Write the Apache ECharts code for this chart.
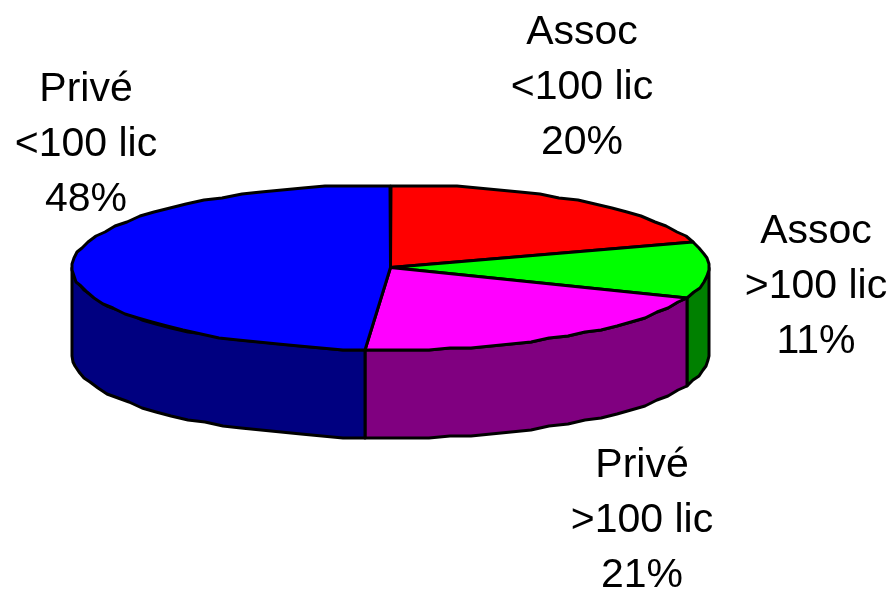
<!DOCTYPE html>
<html>
<head>
<meta charset="utf-8">
<title>Répartition</title>
<script src="https://cdn.jsdelivr.net/npm/echarts@6/dist/echarts.min.js"></script>
<style>
html, body { margin: 0; padding: 0; background: #fff; }
#chart { width: 892px; height: 589px; }
</style>
</head>
<body>
<div id="chart"></div>
<script>
// shares as measured on the drawn pie, printed percentages kept apart
var sliceNames = ['Assoc', 'Assoc', 'Privé', 'Privé'];
var sliceLimits = ['<100 lic', '>100 lic', '>100 lic', '<100 lic'];
var sliceShares = [20, 11, 20.3, 48.7];
var percentLabels = ['20%', '11%', '21%', '48%'];
var topColors = ['#ff0000', '#00ff00', '#ff00ff', '#0000ff'];
var wallColors = ['#800000', '#008000', '#800080', '#000080'];

var CX = 390.5, CY = 267.5, RX = 318.5, RY = 82.5, DEPTH = 88;
var labelPos = [[582, 33], [816, 232], [642, 466], [86, 90]];
var LINE_GAP = 54.6;

var total = 0;
sliceShares.forEach(function (v) { total += v; });

function sliceRange(index) {
    var sum = 0;
    for (var i = 0; i < index; i++) sum += sliceShares[i];
    return [sum / total * 360, (sum + sliceShares[index]) / total * 360];
}

// rim point, snapped to a coarse grid so the outline keeps its stepped look
function rimPoint(deg, drop) {
    var a = deg * Math.PI / 180;
    return [
        Math.round(CX + RX * Math.sin(a)),
        Math.round((CY - RY * Math.cos(a)) / 2) * 2 + drop
    ];
}

function arcPoints(from, to, drop) {
    var pts = [];
    var n = Math.max(1, Math.ceil(Math.abs(to - from) / 4));
    for (var i = 0; i <= n; i++) {
        pts.push(rimPoint(from + (to - from) * i / n, drop));
    }
    return pts;
}

function renderWall(params, api) {
    var r = sliceRange(params.dataIndex);
    var from = Math.max(r[0], 90), to = Math.min(r[1], 270);
    if (from >= to) return { type: 'group', children: [] };
    var pts = arcPoints(from, to, 0).concat(arcPoints(to, from, DEPTH));
    return {
        type: 'polygon',
        shape: { points: pts },
        style: { fill: wallColors[params.dataIndex], stroke: '#000', lineWidth: 3, lineJoin: 'round' }
    };
}

function renderTop(params, api) {
    var r = sliceRange(params.dataIndex);
    var pts = [[CX, CY]].concat(arcPoints(r[0], r[1], 0));
    return {
        type: 'polygon',
        shape: { points: pts },
        style: { fill: topColors[params.dataIndex], stroke: '#000', lineWidth: 3, lineJoin: 'round' }
    };
}

var labelTexts = [];
sliceNames.forEach(function (name, i) {
    [name, sliceLimits[i], percentLabels[i]].forEach(function (line, k) {
        labelTexts.push({
            type: 'text',
            x: labelPos[i][0],
            y: labelPos[i][1] + k * LINE_GAP,
            style: {
                text: line,
                fill: '#000',
                font: '41px "Liberation Sans", Arial, sans-serif',
                textAlign: 'center',
                textVerticalAlign: 'middle'
            }
        });
    });
});

var chart = echarts.init(document.getElementById('chart'));
chart.setOption({
    animation: false,
    backgroundColor: '#fff',
    graphic: labelTexts,
    series: [
        { type: 'custom', coordinateSystem: 'none', renderItem: renderWall, data: sliceShares, silent: true, z: 1 },
        { type: 'custom', coordinateSystem: 'none', renderItem: renderTop, data: sliceShares, silent: true, z: 2 }
    ]
});
</script>
</body>
</html>
